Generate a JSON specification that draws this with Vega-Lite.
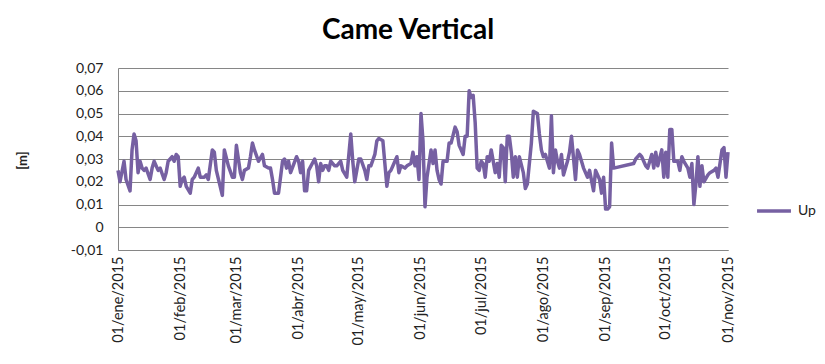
{
  "$schema": "https://vega.github.io/schema/vega-lite/v6.json",
  "width": 610,
  "height": 182,
  "autosize": {"type": "none"},
  "padding": {"left": 118, "top": 68, "right": 97, "bottom": 114},
  "background": "white",
  "title": {"text": "Came Vertical", "font": "Lato", "fontSize": 28, "fontWeight": "bold", "color": "#000000", "anchor": "middle", "frame": "group", "offset": 16, "dx": -15},
  "config": {"view": {"stroke": null}, "font": "Lato"},
  "data": {"values": [
    {"d":"2015-01-01","v":0.025},{"d":"2015-01-02","v":0.020},{"d":"2015-01-04","v":0.029},{"d":"2015-01-05","v":0.021},
    {"d":"2015-01-07","v":0.016},{"d":"2015-01-08","v":0.034},{"d":"2015-01-09","v":0.041},{"d":"2015-01-10","v":0.038},
    {"d":"2015-01-11","v":0.024},{"d":"2015-01-12","v":0.029},{"d":"2015-01-13","v":0.026},{"d":"2015-01-14","v":0.025},
    {"d":"2015-01-15","v":0.026},{"d":"2015-01-17","v":0.021},{"d":"2015-01-18","v":0.026},{"d":"2015-01-19","v":0.029},
    {"d":"2015-01-21","v":0.025},{"d":"2015-01-22","v":0.026},{"d":"2015-01-24","v":0.021},{"d":"2015-01-25","v":0.024},
    {"d":"2015-01-26","v":0.029},{"d":"2015-01-28","v":0.031},{"d":"2015-01-29","v":0.029},{"d":"2015-01-30","v":0.032},
    {"d":"2015-01-31","v":0.031},{"d":"2015-02-01","v":0.018},{"d":"2015-02-02","v":0.021},{"d":"2015-02-03","v":0.022},
    {"d":"2015-02-04","v":0.018},{"d":"2015-02-06","v":0.015},{"d":"2015-02-07","v":0.021},{"d":"2015-02-08","v":0.022},
    {"d":"2015-02-10","v":0.026},{"d":"2015-02-11","v":0.022},{"d":"2015-02-13","v":0.022},{"d":"2015-02-14","v":0.023},
    {"d":"2015-02-15","v":0.021},{"d":"2015-02-17","v":0.034},{"d":"2015-02-18","v":0.033},{"d":"2015-02-19","v":0.025},
    {"d":"2015-02-22","v":0.014},{"d":"2015-02-23","v":0.034},{"d":"2015-02-25","v":0.027},{"d":"2015-02-27","v":0.022},
    {"d":"2015-02-28","v":0.022},{"d":"2015-03-01","v":0.036},{"d":"2015-03-03","v":0.024},{"d":"2015-03-04","v":0.021},
    {"d":"2015-03-05","v":0.025},{"d":"2015-03-07","v":0.026},{"d":"2015-03-08","v":0.031},{"d":"2015-03-09","v":0.037},
    {"d":"2015-03-10","v":0.034},{"d":"2015-03-12","v":0.029},{"d":"2015-03-14","v":0.032},{"d":"2015-03-15","v":0.027},
    {"d":"2015-03-17","v":0.026},{"d":"2015-03-18","v":0.026},{"d":"2015-03-19","v":0.021},{"d":"2015-03-20","v":0.015},
    {"d":"2015-03-22","v":0.015},{"d":"2015-03-24","v":0.029},{"d":"2015-03-25","v":0.030},{"d":"2015-03-26","v":0.026},
    {"d":"2015-03-27","v":0.029},{"d":"2015-03-28","v":0.024},{"d":"2015-03-31","v":0.031},{"d":"2015-04-01","v":0.029},
    {"d":"2015-04-02","v":0.024},{"d":"2015-04-03","v":0.029},{"d":"2015-04-04","v":0.016},{"d":"2015-04-05","v":0.016},
    {"d":"2015-04-06","v":0.025},{"d":"2015-04-09","v":0.030},{"d":"2015-04-10","v":0.027},{"d":"2015-04-11","v":0.020},
    {"d":"2015-04-12","v":0.028},{"d":"2015-04-13","v":0.025},{"d":"2015-04-14","v":0.027},{"d":"2015-04-15","v":0.027},
    {"d":"2015-04-16","v":0.025},{"d":"2015-04-17","v":0.029},{"d":"2015-04-19","v":0.027},{"d":"2015-04-20","v":0.027},
    {"d":"2015-04-22","v":0.029},{"d":"2015-04-23","v":0.025},{"d":"2015-04-25","v":0.022},{"d":"2015-04-27","v":0.041},
    {"d":"2015-04-28","v":0.029},{"d":"2015-04-29","v":0.020},{"d":"2015-04-30","v":0.025},{"d":"2015-05-01","v":0.030},
    {"d":"2015-05-02","v":0.030},{"d":"2015-05-04","v":0.025},{"d":"2015-05-05","v":0.021},{"d":"2015-05-06","v":0.027},
    {"d":"2015-05-07","v":0.027},{"d":"2015-05-09","v":0.032},{"d":"2015-05-10","v":0.038},{"d":"2015-05-11","v":0.039},
    {"d":"2015-05-13","v":0.038},{"d":"2015-05-14","v":0.028},{"d":"2015-05-15","v":0.018},{"d":"2015-05-16","v":0.024},
    {"d":"2015-05-17","v":0.025},{"d":"2015-05-19","v":0.029},{"d":"2015-05-20","v":0.031},{"d":"2015-05-21","v":0.024},
    {"d":"2015-05-22","v":0.027},{"d":"2015-05-24","v":0.026},{"d":"2015-05-25","v":0.027},{"d":"2015-05-27","v":0.028},
    {"d":"2015-05-28","v":0.033},{"d":"2015-05-29","v":0.027},{"d":"2015-05-30","v":0.031},{"d":"2015-05-31","v":0.021},
    {"d":"2015-06-01","v":0.050},{"d":"2015-06-02","v":0.038},{"d":"2015-06-03","v":0.009},{"d":"2015-06-04","v":0.022},
    {"d":"2015-06-06","v":0.034},{"d":"2015-06-07","v":0.028},{"d":"2015-06-08","v":0.034},{"d":"2015-06-09","v":0.025},
    {"d":"2015-06-10","v":0.021},{"d":"2015-06-11","v":0.019},{"d":"2015-06-12","v":0.029},{"d":"2015-06-14","v":0.029},
    {"d":"2015-06-15","v":0.037},{"d":"2015-06-16","v":0.037},{"d":"2015-06-18","v":0.044},{"d":"2015-06-19","v":0.042},
    {"d":"2015-06-20","v":0.036},{"d":"2015-06-21","v":0.034},{"d":"2015-06-22","v":0.032},{"d":"2015-06-23","v":0.040},
    {"d":"2015-06-24","v":0.040},{"d":"2015-06-25","v":0.060},{"d":"2015-06-26","v":0.057},{"d":"2015-06-27","v":0.058},
    {"d":"2015-06-28","v":0.046},{"d":"2015-06-29","v":0.026},{"d":"2015-06-30","v":0.025},{"d":"2015-07-01","v":0.029},
    {"d":"2015-07-02","v":0.028},{"d":"2015-07-03","v":0.022},{"d":"2015-07-04","v":0.031},{"d":"2015-07-05","v":0.029},
    {"d":"2015-07-06","v":0.034},{"d":"2015-07-08","v":0.024},{"d":"2015-07-09","v":0.028},{"d":"2015-07-10","v":0.022},
    {"d":"2015-07-11","v":0.036},{"d":"2015-07-12","v":0.035},{"d":"2015-07-13","v":0.020},{"d":"2015-07-14","v":0.040},
    {"d":"2015-07-15","v":0.040},{"d":"2015-07-16","v":0.033},{"d":"2015-07-17","v":0.022},{"d":"2015-07-18","v":0.031},
    {"d":"2015-07-19","v":0.022},{"d":"2015-07-20","v":0.031},{"d":"2015-07-22","v":0.024},{"d":"2015-07-23","v":0.017},
    {"d":"2015-07-24","v":0.019},{"d":"2015-07-26","v":0.037},{"d":"2015-07-27","v":0.051},{"d":"2015-07-29","v":0.050},
    {"d":"2015-07-30","v":0.041},{"d":"2015-07-31","v":0.034},{"d":"2015-08-01","v":0.031},{"d":"2015-08-02","v":0.032},
    {"d":"2015-08-03","v":0.029},{"d":"2015-08-04","v":0.026},{"d":"2015-08-05","v":0.049},{"d":"2015-08-06","v":0.024},
    {"d":"2015-08-07","v":0.034},{"d":"2015-08-08","v":0.029},{"d":"2015-08-09","v":0.026},{"d":"2015-08-10","v":0.032},
    {"d":"2015-08-11","v":0.023},{"d":"2015-08-13","v":0.029},{"d":"2015-08-14","v":0.033},{"d":"2015-08-15","v":0.040},
    {"d":"2015-08-17","v":0.021},{"d":"2015-08-18","v":0.034},{"d":"2015-08-19","v":0.032},{"d":"2015-08-21","v":0.026},
    {"d":"2015-08-23","v":0.022},{"d":"2015-08-24","v":0.025},{"d":"2015-08-26","v":0.016},{"d":"2015-08-27","v":0.025},
    {"d":"2015-08-29","v":0.021},{"d":"2015-08-30","v":0.015},{"d":"2015-08-31","v":0.022},{"d":"2015-09-01","v":0.008},
    {"d":"2015-09-02","v":0.008},{"d":"2015-09-03","v":0.009},{"d":"2015-09-04","v":0.037},{"d":"2015-09-05","v":0.026},
    {"d":"2015-09-15","v":0.028},{"d":"2015-09-16","v":0.030},{"d":"2015-09-18","v":0.032},{"d":"2015-09-19","v":0.031},
    {"d":"2015-09-21","v":0.027},{"d":"2015-09-22","v":0.026},{"d":"2015-09-24","v":0.032},{"d":"2015-09-25","v":0.026},
    {"d":"2015-09-26","v":0.033},{"d":"2015-09-27","v":0.027},{"d":"2015-09-29","v":0.034},{"d":"2015-09-30","v":0.022},
    {"d":"2015-10-01","v":0.033},{"d":"2015-10-02","v":0.022},{"d":"2015-10-03","v":0.043},{"d":"2015-10-04","v":0.043},
    {"d":"2015-10-05","v":0.029},{"d":"2015-10-07","v":0.029},{"d":"2015-10-08","v":0.025},{"d":"2015-10-09","v":0.031},
    {"d":"2015-10-10","v":0.029},{"d":"2015-10-12","v":0.026},{"d":"2015-10-13","v":0.022},{"d":"2015-10-14","v":0.028},
    {"d":"2015-10-15","v":0.010},{"d":"2015-10-16","v":0.019},{"d":"2015-10-17","v":0.031},{"d":"2015-10-18","v":0.018},
    {"d":"2015-10-19","v":0.027},{"d":"2015-10-20","v":0.020},{"d":"2015-10-22","v":0.023},{"d":"2015-10-23","v":0.024},
    {"d":"2015-10-25","v":0.025},{"d":"2015-10-26","v":0.026},{"d":"2015-10-27","v":0.022},{"d":"2015-10-29","v":0.034},
    {"d":"2015-10-30","v":0.035},{"d":"2015-10-31","v":0.022},{"d":"2015-11-01","v":0.033}
  ]},
  "mark": {"type": "line", "strokeWidth": 3.5, "strokeJoin": "round", "interpolate": "linear"},
  "encoding": {
    "x": {
      "field": "d", "type": "temporal",
      "scale": {"type": "utc", "domain": [{"year": 2015, "month": 1, "date": 1, "utc": true}, {"year": 2015, "month": 11, "date": 1, "utc": true}]},
      "axis": {
        "title": null,
        "values": [
          {"year": 2015, "month": 1, "date": 1, "utc": true}, {"year": 2015, "month": 2, "date": 1, "utc": true},
          {"year": 2015, "month": 3, "date": 1, "utc": true}, {"year": 2015, "month": 4, "date": 1, "utc": true},
          {"year": 2015, "month": 5, "date": 1, "utc": true}, {"year": 2015, "month": 6, "date": 1, "utc": true},
          {"year": 2015, "month": 7, "date": 1, "utc": true}, {"year": 2015, "month": 8, "date": 1, "utc": true},
          {"year": 2015, "month": 9, "date": 1, "utc": true}, {"year": 2015, "month": 10, "date": 1, "utc": true},
          {"year": 2015, "month": 11, "date": 1, "utc": true}
        ],
        "labelExpr": "'01/' + ['ene','feb','mar','abr','may','jun','jul','ago','sep','oct','nov','dic'][utcmonth(datum.value)] + '/2015'",
        "labelAngle": -90, "labelAlign": "right", "labelBaseline": "middle",
        "labelFont": "Lato", "labelFontSize": 14.5, "labelColor": "#222222",
        "labelPadding": 6, "ticks": false, "grid": false,
        "domain": true, "domainColor": "#868686", "domainWidth": 1,
        "labelOverlap": false, "labelFlush": false
      }
    },
    "y": {
      "field": "v", "type": "quantitative",
      "scale": {"domain": [-0.01, 0.07], "nice": false, "zero": false},
      "axis": {
        "title": "[m]", "titleFont": "Lato", "titleFontSize": 13, "titleFontWeight": "bold", "titleColor": "#222222",
        "titleX": -96, "titleY": 92, "titleAngle": -90, "titleAlign": "center", "titleBaseline": "middle",
        "values": [-0.01, 0, 0.01, 0.02, 0.03, 0.04, 0.05, 0.06, 0.07],
        "labelExpr": "datum.value == 0 ? '0' : (datum.value < 0 ? '-' : '') + replace(format(abs(datum.value), '.2f'), '.', ',')",
        "labelFont": "Lato", "labelFontSize": 14, "labelColor": "#222222",
        "labelPadding": 15, "ticks": false,
        "grid": true, "gridColor": "#868686", "gridWidth": 1,
        "domain": true, "domainColor": "#868686", "domainWidth": 1
      }
    },
    "color": {
      "datum": "Up",
      "scale": {"range": ["#7660A2"]},
      "legend": {
        "title": null, "orient": "none", "legendX": 637, "legendY": 124,
        "symbolType": "stroke", "symbolStrokeWidth": 3.5, "symbolSize": 1150,
        "labelFont": "Lato", "labelFontSize": 14, "labelColor": "#222222", "labelOffset": 5, "padding": 0
      }
    }
  }
}
